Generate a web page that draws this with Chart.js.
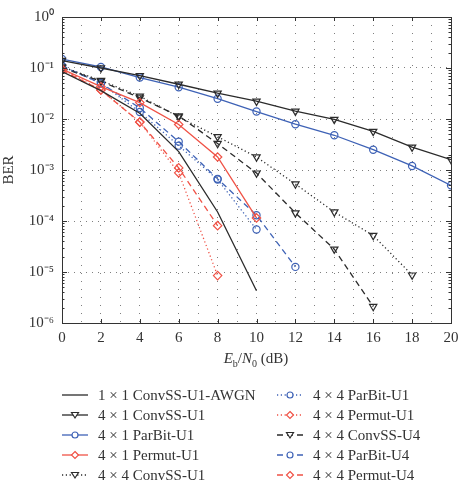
<!DOCTYPE html>
<html>
<head>
<meta charset="utf-8">
<script src="https://cdn.jsdelivr.net/npm/chart.js@4"></script>
<style>
  html, body { margin: 0; padding: 0; background: #fff; }
  #wrap { position: relative; width: 459px; height: 483px; font-family: "Liberation Serif", "DejaVu Serif", serif; color: #333; }
  #xtitle { position: absolute; left: 0; width: 512px; top: 350px; text-align: center; font-size: 15px; }
  #xtitle sub { font-size: 10px; }
  .leg { position: absolute; font-size: 15px; line-height: 20px; white-space: nowrap; }
  .leg svg { position: absolute; top: 5px; }
  .leg span { position: absolute; }
</style>
</head>
<body>
<div id="wrap">
  <canvas id="chart" width="459" height="483"></canvas>
  <div id="xtitle"><i>E</i><sub>b</sub>/<i>N</i><sub>0</sub> (dB)</div>
  <div id="legend"></div>
</div>
<script>
// Eb/N0 (dB)
const snr = [0, 2, 4, 6, 8, 10, 12, 14, 16, 18, 20];
const yTicks = [1, 1e-1, 1e-2, 1e-3, 1e-4, 1e-5, 1e-6];
const yLabels = ['10⁰', '10⁻¹', '10⁻²', '10⁻³', '10⁻⁴', '10⁻⁵', '10⁻⁶'];

// BER per scheme, starting at 0 dB
const awgn1x1 = [0.085, 0.036, 0.013, 0.0023, 1.5e-4, 4.3e-6];
const convss4x1U1 = [0.14, 0.10, 0.071, 0.048, 0.032, 0.0223, 0.0142, 0.0098, 0.0057, 0.0028, 0.0016];
const parbit4x1U1 = [0.15, 0.105, 0.065, 0.042, 0.025, 0.014, 0.0079, 0.0048, 0.0025, 0.0012, 0.0005];
const permut4x1U1 = [0.095, 0.043, 0.021, 0.0078, 0.0018, 1.15e-4];
const convss4x4U1 = [0.105, 0.057, 0.028, 0.011, 0.0045, 0.0018, 5.3e-4, 1.5e-4, 5.2e-5, 8.7e-6];
const parbit4x4U1 = [0.11, 0.05, 0.0137, 0.003, 6.5e-4, 6.8e-5];
const permut4x4U1 = [0.095, 0.037, 0.0087, 8.8e-4, 8.5e-6];
const convss4x4U4 = [0.1, 0.055, 0.026, 0.0115, 0.0033, 8.7e-4, 1.44e-4, 2.8e-5, 2.1e-6];
const parbit4x4U4 = [0.11, 0.05, 0.0165, 0.0036, 6.7e-4, 1.3e-4, 1.26e-5];
const permut4x4U4 = [0.09, 0.037, 0.0087, 0.0011, 8.1e-5];

const BLACK = '#2b2b2b';
const BLUE = 'rgb(62, 98, 182)';
const RED = 'rgb(240, 82, 70)';
const SOLID = [], DOT = [1.2, 2.6], DASH = [6, 4];

const series = [
    { label: '1 × 1 ConvSS-U1-AWGN', data: awgn1x1, color: BLACK, dash: SOLID, marker: null },
    { label: '4 × 1 ConvSS-U1', data: convss4x1U1, color: BLACK, dash: SOLID, marker: 'tri' },
    { label: '4 × 1 ParBit-U1', data: parbit4x1U1, color: BLUE, dash: SOLID, marker: 'circle' },
    { label: '4 × 1 Permut-U1', data: permut4x1U1, color: RED, dash: SOLID, marker: 'diamond' },
    { label: '4 × 4 ConvSS-U1', data: convss4x4U1, color: BLACK, dash: DOT, marker: 'tri' },
    { label: '4 × 4 ParBit-U1', data: parbit4x4U1, color: BLUE, dash: DOT, marker: 'circle' },
    { label: '4 × 4 Permut-U1', data: permut4x4U1, color: RED, dash: DOT, marker: 'diamond' },
    { label: '4 × 4 ConvSS-U4', data: convss4x4U4, color: BLACK, dash: DASH, marker: 'tri' },
    { label: '4 × 4 ParBit-U4', data: parbit4x4U4, color: BLUE, dash: DASH, marker: 'circle' },
    { label: '4 × 4 Permut-U4', data: permut4x4U4, color: RED, dash: DASH, marker: 'diamond' }
];

const pointStyles = { tri: 'triangle', circle: 'circle', diamond: 'rectRot' };

const datasets = series.map(s => ({
    label: s.label,
    data: s.data.map((v, i) => ({ x: snr[i], y: v })),
    borderColor: s.color,
    borderWidth: 1.3,
    borderDash: s.dash,
    pointStyle: s.marker ? pointStyles[s.marker] : false,
    pointRotation: s.marker === 'tri' ? 180 : 0,
    pointRadius: s.marker ? (s.marker === 'circle' ? 3.6 : 4.2) : 0,
    pointBorderWidth: 1.2,
    pointBorderColor: s.color,
    pointBackgroundColor: 'rgba(255,255,255,0)',
    fill: false,
    tension: 0
}));

// frame with inward tick marks
const frame = {
    id: 'frame',
    afterDraw(chart) {
        const { ctx, chartArea: a, scales } = chart;
        ctx.save();
        ctx.strokeStyle = '#333';
        ctx.lineWidth = 1;
        ctx.strokeRect(a.left + 0.5, a.top + 0.5, a.right - a.left, a.bottom - a.top);
        ctx.beginPath();
        for (let v = 0; v <= 20; v += 2) {
            const px = Math.round(scales.x.getPixelForValue(v)) + 0.5;
            ctx.moveTo(px, a.bottom); ctx.lineTo(px, a.bottom - 4);
            ctx.moveTo(px, a.top); ctx.lineTo(px, a.top + 4);
        }
        for (let e = -6; e < 0; e++) {
            for (let m = 1; m <= 9; m++) {
                const py = Math.round(scales.y.getPixelForValue(m * Math.pow(10, e))) + 0.5;
                const len = m === 1 ? 5 : 2.5;
                ctx.moveTo(a.left, py); ctx.lineTo(a.left + len, py);
                ctx.moveTo(a.right, py); ctx.lineTo(a.right - len, py);
            }
        }
        ctx.stroke();
        ctx.restore();
    }
};

new Chart(document.getElementById('chart'), {
    type: 'line',
    data: { datasets },
    options: {
        responsive: false,
        animation: false,
        layout: { padding: { left: 0, right: 8, top: 13, bottom: 0 } },
        plugins: { legend: { display: false }, tooltip: { enabled: false } },
        scales: {
            x: {
                type: 'linear',
                min: 0, max: 20,
                afterFit: s => { s.height = 160; s.paddingRight = 0; s.paddingLeft = 0; },
                ticks: {
                    stepSize: 1,
                    padding: 6,
                    autoSkip: false,
                    maxRotation: 0,
                    minRotation: 0,
                    color: '#333',
                    font: { family: 'Liberation Serif', size: 15 },
                    callback: v => (v % 2 === 0 ? String(v) : '')
                },
                grid: { color: 'rgba(0,0,0,0.5)', lineWidth: 1, drawTicks: false },
                border: { display: false, dash: [1, 7] }
            },
            y: {
                type: 'logarithmic',
                min: 1e-6, max: 1,
                afterFit: s => { s.width = 62; },
                afterBuildTicks: s => { s.ticks = yTicks.map(v => ({ value: v })); },
                ticks: {
                    padding: 8,
                    color: '#333',
                    font: { family: 'Liberation Serif', size: 15 },
                    callback: v => yLabels[yTicks.findIndex(t => Math.abs(Math.log10(t) - Math.log10(v)) < 1e-6)]
                },
                grid: { color: 'rgba(0,0,0,0.5)', lineWidth: 1, drawTicks: false },
                border: { display: false, dash: [1, 5] },
                title: {
                    display: true, text: 'BER', color: '#333',
                    font: { family: 'Liberation Serif', size: 15 },
                    padding: { top: 0, bottom: 0 }
                }
            }
        }
    },
    plugins: [frame]
});

// legend, two columns of five
const legend = document.getElementById('legend');
series.forEach((s, i) => {
    const col = Math.floor(i / 5), row = i % 5;
    const div = document.createElement('div');
    div.className = 'leg';
    div.style.left = (col ? 277 : 62) + 'px';
    div.style.top = (385 + row * 20) + 'px';
    let mark = '';
    if (s.marker === 'tri') mark = `<polygon points="9.5,2.5 16.5,2.5 13,8" fill="#fff" stroke="${s.color}" stroke-width="1.2"/>`;
    if (s.marker === 'circle') mark = `<circle cx="13" cy="5" r="3" fill="#fff" stroke="${s.color}" stroke-width="1.2"/>`;
    if (s.marker === 'diamond') mark = `<polygon points="13,1.5 16.5,5 13,8.5 9.5,5" fill="#fff" stroke="${s.color}" stroke-width="1.2"/>`;
    div.innerHTML = `<svg width="26" height="10"><line x1="0" y1="5" x2="26" y2="5" stroke="${s.color}" stroke-width="1.3" stroke-dasharray="${s.dash.join(',')}"/>${mark}</svg><span style="left:36px;top:0">${s.label}</span>`;
    legend.appendChild(div);
});
</script>
</body>
</html>
